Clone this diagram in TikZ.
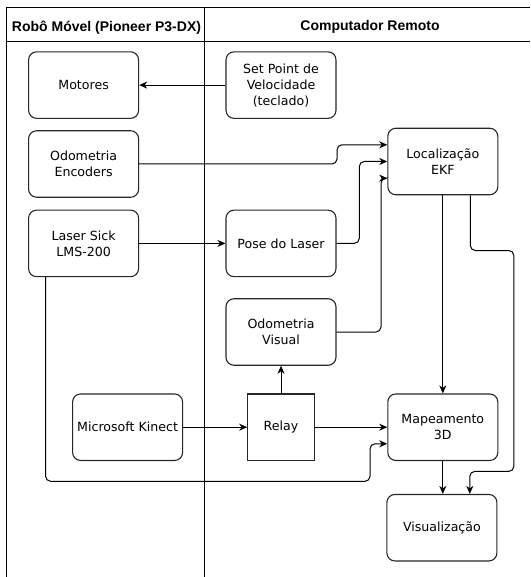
\documentclass[tikz,border=0pt]{standalone}
\usepackage{fontspec}
\setmainfont{DejaVu Sans}
\newfontfamily\hdrfont{Liberation Sans}
\usetikzlibrary{arrows.meta}
\begin{document}
\begin{tikzpicture}[x=1pt,y=-1pt,
  box/.style={draw=black!85, line width=1.1pt, rounded corners=8pt, minimum width=110pt, minimum height=66.5pt, align=center, inner sep=1pt, font=\fontsize{12.6}{16}\selectfont},
  sqbox/.style={box, rounded corners=0pt, minimum width=66.5pt},
  frame/.style={line width=1pt, black},
  hdr/.style={font=\hdrfont\bfseries\fontsize{14}{16}\selectfont},
  arr/.style={line width=1pt, rounded corners=5pt, -{Stealth[length=8pt,width=7pt,inset=2.5pt]}},
  ln/.style={line width=1pt, rounded corners=5pt}]
\useasboundingbox (0,0) rectangle (530,577);
% frame
\draw[frame] (6.7,577) -- (6.7,7.3) -- (530,7.3);
\draw[frame] (6.7,41.7) -- (530,41.7);
\draw[frame] (204,7.3) -- (204,577);
\node[hdr] (h1) at (106.5,27.3) {Robô Móvel (Pioneer P3-DX)};
\node[hdr] (h2) at (370,27.3) {Computador Remoto};
% nodes
\node[box] (mot) at (83.6,85.1) {Motores};
\node[box] (setp) at (281,85.1) {Set Point de\\Velocidade\\(teclado)};
\node[box] (odoe) at (83.6,164) {Odometria\\Encoders};
\node[box] (ekf) at (442.8,161.5) {Localização\\EKF};
\node[box] (laser) at (83.6,243.4) {Laser Sick\\LMS-200};
\node[box] (pose) at (281,243.4) {Pose do Laser};
\node[box] (odov) at (281,332) {Odometria\\Visual};
\node[box] (kin) at (127.6,427.2) {Microsoft Kinect};
\node[sqbox] (relay) at (281,427.2) {Relay};
\node[box] (map) at (442.8,427.2) {Mapeamento\\3D};
\node[box] (vis) at (441.9,527.7) {Visualização};
% connectors
\draw[arr] (setp) -- (mot);
\draw[arr] (odoe.east) -- (337,164) -- (337,144.8) -- (ekf.west |- 0,144.8);
\draw[arr] (pose.east) -- (359.3,243.4) -- (359.3,161.5) -- (ekf.west);
\draw[arr] (odov.east) -- (381,332) -- (381,178.2) -- (ekf.west |- 0,178.2);
\draw[arr] (laser) -- (pose);
\draw[arr] (ekf) -- (map);
\draw[arr] (ekf.south -| 470.3,0) -- (470.3,250.5) -- (513.8,250.5) -- (513.8,471.4) -- (469.8,471.4) -- (vis.north -| 469.8,0);
\draw[arr] (relay) -- (odov);
\draw[arr] (kin) -- (relay);
\draw[arr] (relay) -- (map);
\draw[arr] (laser.south -| 45.6,0) -- (45.6,481.3) -- (370,481.3) -- (370,443.8) -- (map.west |- 0,443.8);
\draw[arr] (map) -- (vis.north -| map.south);
\end{tikzpicture}
\end{document}
